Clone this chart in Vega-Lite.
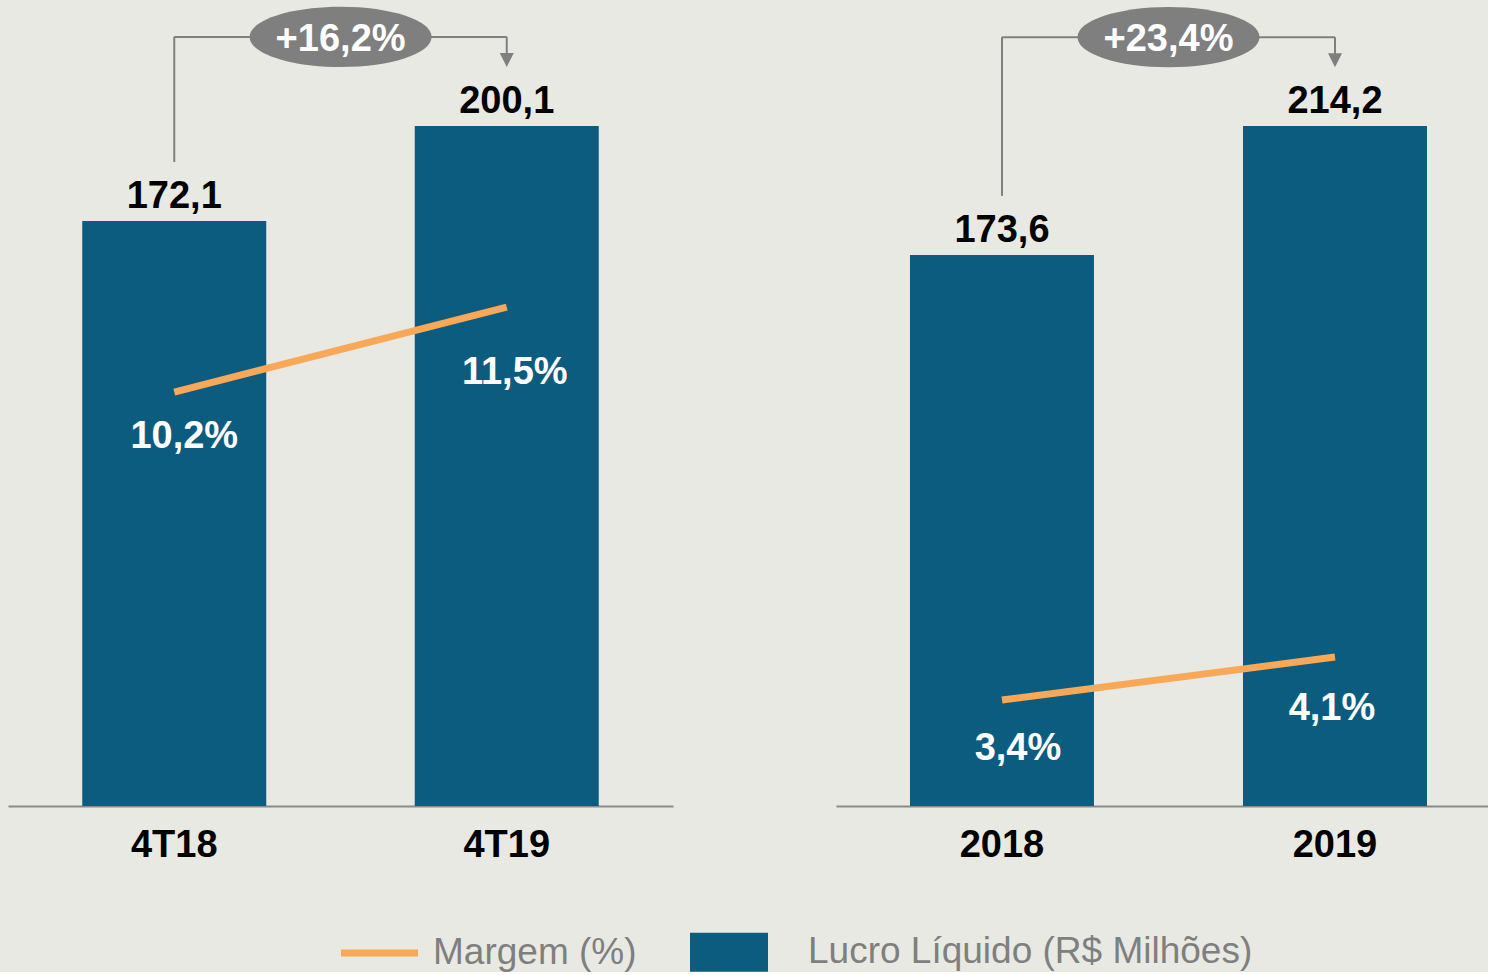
{
  "$schema": "https://vega.github.io/schema/vega-lite/v6.json",
  "background": "#e9e9e4",
  "padding": {"left": 8, "top": 0, "right": 0, "bottom": 0},
  "spacing": 163,
  "config": {
    "view": {"stroke": null},
    "font": "Liberation Sans",
    "axisX": {"title": null, "labelAngle": 0, "ticks": false, "tickSize": 0, "grid": false, "labelPadding": 20, "labelFont": "Liberation Sans", "labelFontSize": 38, "labelFontWeight": "bold", "labelColor": "#000000", "domainColor": "#8a8a8a", "domainWidth": 2},
    "axisY": {"disable": true}
  },
  "datasets": {
    "trim": [
      {"periodo": "4T18", "lucro": 172.1, "lucroLabel": "172,1", "margem": 10.2, "margemLabel": "10,2%"},
      {"periodo": "4T19", "lucro": 200.1, "lucroLabel": "200,1", "margem": 11.5, "margemLabel": "11,5%"}
    ],
    "ano": [
      {"periodo": "2018", "lucro": 173.6, "lucroLabel": "173,6", "margem": 3.4, "margemLabel": "3,4%"},
      {"periodo": "2019", "lucro": 214.2, "lucroLabel": "214,2", "margem": 4.1, "margemLabel": "4,1%"}
    ],
    "trimVar": [{"from": "4T18", "to": "4T19", "fromVal": 172.1, "var": "+16,2%"}],
    "anoVar": [{"from": "2018", "to": "2019", "fromVal": 173.6, "var": "+23,4%"}]
  },
  "hconcat": [
    {
      "width": 665,
      "height": 806,
      "layer": [
        {
          "layer": [
            {
              "data": {"name": "trim"},
              "mark": {"type": "bar"},
              "encoding": {
                "x": {"field": "periodo", "type": "nominal", "sort": null, "scale": {"domain": ["4T18", "4T19"], "paddingInner": 0.4466, "paddingOuter": 0.2233}},
                "y": {"field": "lucro", "type": "quantitative", "scale": {"domain": [0, 237.15], "nice": false, "zero": true}, "axis": null},
                "color": {
                  "datum": "Lucro Líquido (R$ Milhões)", "type": "nominal",
                  "scale": {"domain": ["Margem (%)", "Lucro Líquido (R$ Milhões)"], "range": ["#f8a857", "#0c5c7f"]},
                  "legend": {
                    "orient": "none", "legendX": 333, "legendY": 932, "direction": "horizontal", "title": null, "padding": 0,
                    "symbolSize": 1600, "labelOffset": 52, "columnPadding": 53,
                    "labelFont": "Liberation Sans", "labelFontSize": 37, "labelColor": "#7f7f7f", "labelLimit": 600, "symbolStrokeWidth": 0,
                    "encode": {"symbols": {"update": {
                      "shape": {"signal": "datum.value === 'Margem (%)' ? 'M-1,-0.175L2.85,-0.175L2.85,0.175L-1,0.175Z' : 'M-2.3,-0.975L1.6,-0.975L1.6,0.975L-2.3,0.975Z'"},
                      "fill": {"signal": "datum.value === 'Margem (%)' ? '#f8a857' : '#2c5a7e'"},
                      "stroke": {"value": "transparent"},
                      "opacity": {"value": 1},
                      "size": {"value": 1600}
                    }}}
                  }
                }
              }
            },
            {
              "data": {"name": "trim"},
              "mark": {"type": "text", "fontSize": 38, "fontWeight": "bold", "color": "#000000", "baseline": "alphabetic", "dy": -13},
              "encoding": {
                "x": {"field": "periodo", "type": "nominal"},
                "y": {"field": "lucro", "type": "quantitative"},
                "text": {"field": "lucroLabel"}
              }
            },
            {
              "data": {"name": "trimVar"},
              "mark": {"type": "rule", "color": "#7f7f7f", "strokeWidth": 2, "yOffset": -59},
              "encoding": {
                "x": {"field": "from", "type": "nominal"},
                "y": {"field": "fromVal", "type": "quantitative"},
                "y2": {"datum": 226.3}
              }
            },
            {
              "data": {"name": "trimVar"},
              "mark": {"type": "rule", "color": "#7f7f7f", "strokeWidth": 2},
              "encoding": {
                "x": {"field": "from", "type": "nominal"},
                "x2": {"field": "to"},
                "y": {"datum": 226.3}
              }
            },
            {
              "data": {"name": "trimVar"},
              "mark": {"type": "rule", "color": "#7f7f7f", "strokeWidth": 2, "y2Offset": 18},
              "encoding": {
                "x": {"field": "to", "type": "nominal"},
                "y": {"datum": 226.3},
                "y2": {"datum": 226.3}
              }
            },
            {
              "data": {"name": "trimVar"},
              "mark": {"type": "point", "shape": "M-1,-1L1,-1L0,1Z", "size": 196, "filled": true, "color": "#7f7f7f", "opacity": 1, "strokeWidth": 0, "yOffset": 23},
              "encoding": {
                "x": {"field": "to", "type": "nominal"},
                "y": {"datum": 226.3}
              }
            },
            {
              "data": {"name": "trimVar"},
              "mark": {"type": "point", "shape": "M-1,0C-1,-0.182,-0.552,-0.33,0,-0.33C0.552,-0.33,1,-0.182,1,0C1,0.182,0.552,0.33,0,0.33C-0.552,0.33,-1,0.182,-1,0Z", "size": 33124, "filled": true, "color": "#7f7f7f", "opacity": 1, "strokeWidth": 0},
              "encoding": {
                "x": {"field": "from", "type": "nominal", "bandPosition": 1.404},
                "y": {"datum": 226.3}
              }
            },
            {
              "data": {"name": "trimVar"},
              "mark": {"type": "text", "fontSize": 38, "fontWeight": "bold", "color": "#ffffff", "baseline": "alphabetic", "dy": 14},
              "encoding": {
                "x": {"field": "from", "type": "nominal", "bandPosition": 1.404},
                "y": {"datum": 226.3},
                "text": {"field": "var"}
              }
            }
          ]
        },
        {
          "data": {"name": "trim"},
          "layer": [
            {
              "mark": {"type": "line", "strokeWidth": 7, "strokeCap": "butt"},
              "encoding": {
                "x": {"field": "periodo", "type": "nominal"},
                "y": {"field": "margem", "type": "quantitative", "scale": {"domain": [3.868, 16.196], "zero": false, "nice": false}, "axis": null},
                "color": {"datum": "Margem (%)", "type": "nominal", "scale": {"domain": ["Margem (%)", "Lucro Líquido (R$ Milhões)"], "range": ["#f8a857", "#0c5c7f"]}}
              }
            },
            {
              "transform": [{"filter": "datum.periodo === '4T18'"}],
              "mark": {"type": "text", "fontSize": 38, "fontWeight": "bold", "color": "#ffffff", "baseline": "alphabetic", "dx": 10, "dy": 56},
              "encoding": {
                "x": {"field": "periodo", "type": "nominal"},
                "y": {"field": "margem", "type": "quantitative"},
                "text": {"field": "margemLabel"}
              }
            },
            {
              "transform": [{"filter": "datum.periodo === '4T19'"}],
              "mark": {"type": "text", "fontSize": 38, "fontWeight": "bold", "color": "#ffffff", "baseline": "alphabetic", "dx": 8, "dy": 77},
              "encoding": {
                "x": {"field": "periodo", "type": "nominal"},
                "y": {"field": "margem", "type": "quantitative"},
                "text": {"field": "margemLabel"}
              }
            }
          ]
        }
      ],
      "resolve": {"scale": {"y": "independent"}}
    },
    {
      "width": 652,
      "height": 806,
      "layer": [
        {
          "layer": [
            {
              "data": {"name": "ano"},
              "mark": {"type": "bar"},
              "encoding": {
                "x": {"field": "periodo", "type": "nominal", "sort": null, "scale": {"domain": ["2018", "2019"], "paddingInner": 0.44745, "paddingOuter": 0.2027, "align": 0.548}},
                "y": {"field": "lucro", "type": "quantitative", "scale": {"domain": [0, 253.9], "nice": false, "zero": true}, "axis": null},
                "color": {"datum": "Lucro Líquido (R$ Milhões)", "type": "nominal", "scale": {"domain": ["Margem (%)", "Lucro Líquido (R$ Milhões)"], "range": ["#f8a857", "#0c5c7f"]}}
              }
            },
            {
              "data": {"name": "ano"},
              "mark": {"type": "text", "fontSize": 38, "fontWeight": "bold", "color": "#000000", "baseline": "alphabetic", "dy": -13},
              "encoding": {
                "x": {"field": "periodo", "type": "nominal"},
                "y": {"field": "lucro", "type": "quantitative"},
                "text": {"field": "lucroLabel"}
              }
            },
            {
              "data": {"name": "anoVar"},
              "mark": {"type": "rule", "color": "#7f7f7f", "strokeWidth": 2, "yOffset": -59},
              "encoding": {
                "x": {"field": "from", "type": "nominal"},
                "y": {"field": "fromVal", "type": "quantitative"},
                "y2": {"datum": 242.2}
              }
            },
            {
              "data": {"name": "anoVar"},
              "mark": {"type": "rule", "color": "#7f7f7f", "strokeWidth": 2},
              "encoding": {
                "x": {"field": "from", "type": "nominal"},
                "x2": {"field": "to"},
                "y": {"datum": 242.2}
              }
            },
            {
              "data": {"name": "anoVar"},
              "mark": {"type": "rule", "color": "#7f7f7f", "strokeWidth": 2, "y2Offset": 18},
              "encoding": {
                "x": {"field": "to", "type": "nominal"},
                "y": {"datum": 242.2},
                "y2": {"datum": 242.2}
              }
            },
            {
              "data": {"name": "anoVar"},
              "mark": {"type": "point", "shape": "M-1,-1L1,-1L0,1Z", "size": 196, "filled": true, "color": "#7f7f7f", "opacity": 1, "strokeWidth": 0, "yOffset": 23},
              "encoding": {
                "x": {"field": "to", "type": "nominal"},
                "y": {"datum": 242.2}
              }
            },
            {
              "data": {"name": "anoVar"},
              "mark": {"type": "point", "shape": "M-1,0C-1,-0.182,-0.552,-0.33,0,-0.33C0.552,-0.33,1,-0.182,1,0C1,0.182,0.552,0.33,0,0.33C-0.552,0.33,-1,0.182,-1,0Z", "size": 33124, "filled": true, "color": "#7f7f7f", "opacity": 1, "strokeWidth": 0},
              "encoding": {
                "x": {"field": "from", "type": "nominal", "bandPosition": 1.405},
                "y": {"datum": 242.2}
              }
            },
            {
              "data": {"name": "anoVar"},
              "mark": {"type": "text", "fontSize": 38, "fontWeight": "bold", "color": "#ffffff", "baseline": "alphabetic", "dy": 14},
              "encoding": {
                "x": {"field": "from", "type": "nominal", "bandPosition": 1.405},
                "y": {"datum": 242.2},
                "text": {"field": "var"}
              }
            }
          ]
        },
        {
          "data": {"name": "ano"},
          "layer": [
            {
              "mark": {"type": "line", "strokeWidth": 7, "strokeCap": "butt"},
              "encoding": {
                "x": {"field": "periodo", "type": "nominal"},
                "y": {"field": "margem", "type": "quantitative", "scale": {"domain": [1.675, 14.796], "zero": false, "nice": false}, "axis": null},
                "color": {"datum": "Margem (%)", "type": "nominal", "scale": {"domain": ["Margem (%)", "Lucro Líquido (R$ Milhões)"], "range": ["#f8a857", "#0c5c7f"]}}
              }
            },
            {
              "transform": [{"filter": "datum.periodo === '2018'"}],
              "mark": {"type": "text", "fontSize": 38, "fontWeight": "bold", "color": "#ffffff", "baseline": "alphabetic", "dx": 16, "dy": 60},
              "encoding": {
                "x": {"field": "periodo", "type": "nominal"},
                "y": {"field": "margem", "type": "quantitative"},
                "text": {"field": "margemLabel"}
              }
            },
            {
              "transform": [{"filter": "datum.periodo === '2019'"}],
              "mark": {"type": "text", "fontSize": 38, "fontWeight": "bold", "color": "#ffffff", "baseline": "alphabetic", "dx": -3, "dy": 63},
              "encoding": {
                "x": {"field": "periodo", "type": "nominal"},
                "y": {"field": "margem", "type": "quantitative"},
                "text": {"field": "margemLabel"}
              }
            }
          ]
        }
      ],
      "resolve": {"scale": {"y": "independent"}}
    }
  ]
}
